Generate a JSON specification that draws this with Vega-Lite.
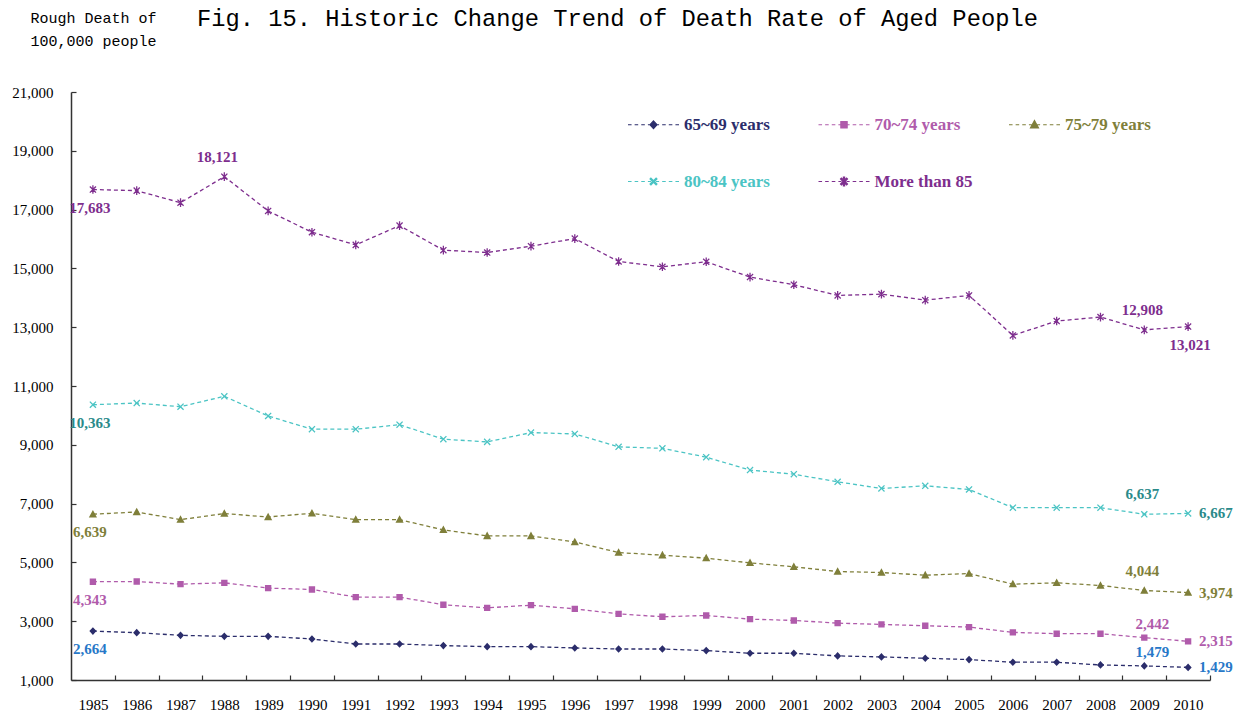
{
  "$schema": "https://vega.github.io/schema/vega-lite/v6.json",
  "width": 1139,
  "height": 588,
  "autosize": {"type": "none"},
  "padding": {"left": 71, "top": 92, "right": 36, "bottom": 36},
  "background": "white",
  "title": {
    "text": "Fig. 15. Historic Change Trend of Death Rate of Aged People",
    "anchor": "start",
    "frame": "group",
    "font": "Liberation Mono",
    "fontSize": 23.75,
    "fontWeight": "normal",
    "color": "#000000",
    "dx": 126,
    "dy": 29,
    "offset": 8
  },
  "config": {
    "view": {"stroke": null},
    "axis": {
      "domainColor": "#333333",
      "domainWidth": 1.5,
      "tickColor": "#333333",
      "tickWidth": 1.2,
      "labelFont": "Liberation Serif",
      "labelFontSize": 15,
      "labelColor": "#000000",
      "grid": false
    }
  },
  "datasets": {
    "rates": [
      {"year": 1985, "series": "65~69 years", "value": 2664},
      {"year": 1986, "series": "65~69 years", "value": 2610},
      {"year": 1987, "series": "65~69 years", "value": 2520},
      {"year": 1988, "series": "65~69 years", "value": 2485},
      {"year": 1989, "series": "65~69 years", "value": 2485},
      {"year": 1990, "series": "65~69 years", "value": 2395},
      {"year": 1991, "series": "65~69 years", "value": 2225},
      {"year": 1992, "series": "65~69 years", "value": 2225},
      {"year": 1993, "series": "65~69 years", "value": 2170},
      {"year": 1994, "series": "65~69 years", "value": 2135},
      {"year": 1995, "series": "65~69 years", "value": 2135},
      {"year": 1996, "series": "65~69 years", "value": 2090},
      {"year": 1997, "series": "65~69 years", "value": 2055},
      {"year": 1998, "series": "65~69 years", "value": 2055},
      {"year": 1999, "series": "65~69 years", "value": 2000},
      {"year": 2000, "series": "65~69 years", "value": 1910},
      {"year": 2001, "series": "65~69 years", "value": 1910},
      {"year": 2002, "series": "65~69 years", "value": 1820},
      {"year": 2003, "series": "65~69 years", "value": 1785},
      {"year": 2004, "series": "65~69 years", "value": 1740},
      {"year": 2005, "series": "65~69 years", "value": 1695},
      {"year": 2006, "series": "65~69 years", "value": 1605},
      {"year": 2007, "series": "65~69 years", "value": 1605},
      {"year": 2008, "series": "65~69 years", "value": 1512},
      {"year": 2009, "series": "65~69 years", "value": 1479},
      {"year": 2010, "series": "65~69 years", "value": 1429},
      {"year": 1985, "series": "70~74 years", "value": 4343},
      {"year": 1986, "series": "70~74 years", "value": 4350},
      {"year": 1987, "series": "70~74 years", "value": 4260},
      {"year": 1988, "series": "70~74 years", "value": 4305},
      {"year": 1989, "series": "70~74 years", "value": 4125},
      {"year": 1990, "series": "70~74 years", "value": 4080},
      {"year": 1991, "series": "70~74 years", "value": 3820},
      {"year": 1992, "series": "70~74 years", "value": 3820},
      {"year": 1993, "series": "70~74 years", "value": 3560},
      {"year": 1994, "series": "70~74 years", "value": 3455},
      {"year": 1995, "series": "70~74 years", "value": 3545},
      {"year": 1996, "series": "70~74 years", "value": 3420},
      {"year": 1997, "series": "70~74 years", "value": 3250},
      {"year": 1998, "series": "70~74 years", "value": 3150},
      {"year": 1999, "series": "70~74 years", "value": 3195},
      {"year": 2000, "series": "70~74 years", "value": 3070},
      {"year": 2001, "series": "70~74 years", "value": 3025},
      {"year": 2002, "series": "70~74 years", "value": 2935},
      {"year": 2003, "series": "70~74 years", "value": 2890},
      {"year": 2004, "series": "70~74 years", "value": 2845},
      {"year": 2005, "series": "70~74 years", "value": 2800},
      {"year": 2006, "series": "70~74 years", "value": 2620},
      {"year": 2007, "series": "70~74 years", "value": 2575},
      {"year": 2008, "series": "70~74 years", "value": 2575},
      {"year": 2009, "series": "70~74 years", "value": 2442},
      {"year": 2010, "series": "70~74 years", "value": 2315},
      {"year": 1985, "series": "75~79 years", "value": 6639},
      {"year": 1986, "series": "75~79 years", "value": 6715},
      {"year": 1987, "series": "75~79 years", "value": 6455},
      {"year": 1988, "series": "75~79 years", "value": 6660},
      {"year": 1989, "series": "75~79 years", "value": 6545},
      {"year": 1990, "series": "75~79 years", "value": 6670},
      {"year": 1991, "series": "75~79 years", "value": 6455},
      {"year": 1992, "series": "75~79 years", "value": 6455},
      {"year": 1993, "series": "75~79 years", "value": 6105},
      {"year": 1994, "series": "75~79 years", "value": 5900},
      {"year": 1995, "series": "75~79 years", "value": 5900},
      {"year": 1996, "series": "75~79 years", "value": 5695},
      {"year": 1997, "series": "75~79 years", "value": 5335},
      {"year": 1998, "series": "75~79 years", "value": 5245},
      {"year": 1999, "series": "75~79 years", "value": 5145},
      {"year": 2000, "series": "75~79 years", "value": 4985},
      {"year": 2001, "series": "75~79 years", "value": 4850},
      {"year": 2002, "series": "75~79 years", "value": 4690},
      {"year": 2003, "series": "75~79 years", "value": 4655},
      {"year": 2004, "series": "75~79 years", "value": 4565},
      {"year": 2005, "series": "75~79 years", "value": 4620},
      {"year": 2006, "series": "75~79 years", "value": 4260},
      {"year": 2007, "series": "75~79 years", "value": 4305},
      {"year": 2008, "series": "75~79 years", "value": 4215},
      {"year": 2009, "series": "75~79 years", "value": 4044},
      {"year": 2010, "series": "75~79 years", "value": 3974},
      {"year": 1985, "series": "80~84 years", "value": 10363},
      {"year": 1986, "series": "80~84 years", "value": 10420},
      {"year": 1987, "series": "80~84 years", "value": 10295},
      {"year": 1988, "series": "80~84 years", "value": 10650},
      {"year": 1989, "series": "80~84 years", "value": 9980},
      {"year": 1990, "series": "80~84 years", "value": 9530},
      {"year": 1991, "series": "80~84 years", "value": 9530},
      {"year": 1992, "series": "80~84 years", "value": 9685},
      {"year": 1993, "series": "80~84 years", "value": 9190},
      {"year": 1994, "series": "80~84 years", "value": 9100},
      {"year": 1995, "series": "80~84 years", "value": 9415},
      {"year": 1996, "series": "80~84 years", "value": 9370},
      {"year": 1997, "series": "80~84 years", "value": 8930},
      {"year": 1998, "series": "80~84 years", "value": 8880},
      {"year": 1999, "series": "80~84 years", "value": 8580},
      {"year": 2000, "series": "80~84 years", "value": 8140},
      {"year": 2001, "series": "80~84 years", "value": 8000},
      {"year": 2002, "series": "80~84 years", "value": 7740},
      {"year": 2003, "series": "80~84 years", "value": 7515},
      {"year": 2004, "series": "80~84 years", "value": 7605},
      {"year": 2005, "series": "80~84 years", "value": 7480},
      {"year": 2006, "series": "80~84 years", "value": 6860},
      {"year": 2007, "series": "80~84 years", "value": 6860},
      {"year": 2008, "series": "80~84 years", "value": 6860},
      {"year": 2009, "series": "80~84 years", "value": 6637},
      {"year": 2010, "series": "80~84 years", "value": 6667},
      {"year": 1985, "series": "More than 85", "value": 17683},
      {"year": 1986, "series": "More than 85", "value": 17645},
      {"year": 1987, "series": "More than 85", "value": 17235},
      {"year": 1988, "series": "More than 85", "value": 18121},
      {"year": 1989, "series": "More than 85", "value": 16955},
      {"year": 1990, "series": "More than 85", "value": 16230},
      {"year": 1991, "series": "More than 85", "value": 15800},
      {"year": 1992, "series": "More than 85", "value": 16455},
      {"year": 1993, "series": "More than 85", "value": 15620},
      {"year": 1994, "series": "More than 85", "value": 15540},
      {"year": 1995, "series": "More than 85", "value": 15755},
      {"year": 1996, "series": "More than 85", "value": 16015},
      {"year": 1997, "series": "More than 85", "value": 15235},
      {"year": 1998, "series": "More than 85", "value": 15055},
      {"year": 1999, "series": "More than 85", "value": 15225},
      {"year": 2000, "series": "More than 85", "value": 14705},
      {"year": 2001, "series": "More than 85", "value": 14445},
      {"year": 2002, "series": "More than 85", "value": 14080},
      {"year": 2003, "series": "More than 85", "value": 14125},
      {"year": 2004, "series": "More than 85", "value": 13920},
      {"year": 2005, "series": "More than 85", "value": 14080},
      {"year": 2006, "series": "More than 85", "value": 12720},
      {"year": 2007, "series": "More than 85", "value": 13210},
      {"year": 2008, "series": "More than 85", "value": 13345},
      {"year": 2009, "series": "More than 85", "value": 12908},
      {"year": 2010, "series": "More than 85", "value": 13021}
    ]
  },
  "data": {"name": "rates"},
  "encoding": {
    "x": {
      "field": "year",
      "type": "ordinal",
      "scale": {"type": "point", "padding": 0.5},
      "axis": {
        "title": null,
        "labelAngle": 0,
        "tickSize": -5,
        "tickOffset": 21.9,
        "labelOffset": -21.9,
        "labelPadding": 22
      }
    },
    "y": {
      "field": "value",
      "type": "quantitative",
      "scale": {"domain": [1000, 21000], "nice": false, "zero": false},
      "axis": {
        "values": [1000, 3000, 5000, 7000, 9000, 11000, 13000, 15000, 17000, 19000, 21000],
        "format": ",.0f",
        "tickSize": -5,
        "labelPadding": 23,
        "title": ["Rough Death of", "100,000 people"],
        "titleAngle": 0,
        "titleAlign": "left",
        "titleBaseline": "alphabetic",
        "titleX": -41,
        "titleY": -70,
        "titleFont": "Liberation Mono",
        "titleFontSize": 15,
        "titleFontWeight": "normal",
        "titleColor": "#000000",
        "titleLineHeight": 23
      }
    }
  },
  "layer": [
    {
      "mark": {"type": "line", "strokeDash": [4, 3], "strokeWidth": 1.3},
      "encoding": {
        "stroke": {
          "field": "series",
          "type": "nominal",
          "scale": {
            "domain": ["More than 85", "80~84 years", "75~79 years", "70~74 years", "65~69 years"],
            "range": ["#7E2E8E", "#4BC4C4", "#7F7F3A", "#B05BAB", "#2B2D6B"]
          },
          "legend": null
        }
      }
    },
    {
      "mark": {"type": "point", "filled": true, "size": 2601, "strokeWidth": 0, "opacity": 1},
      "encoding": {
        "color": {
          "field": "series",
          "type": "nominal",
          "scale": {
            "domain": ["65~69 years", "70~74 years", "75~79 years", "80~84 years", "More than 85"],
            "range": ["#2B2D6B", "#B05BAB", "#7F7F3A", "#4BC4C4", "#7E2E8E"]
          },
          "legend": {
            "title": null,
            "orient": "none",
            "legendX": 556,
            "legendY": 6,
            "direction": "horizontal",
            "columns": 3,
            "gridAlign": "all",
            "columnPadding": 33.5,
            "rowPadding": 22,
            "padding": 0,
            "symbolSize": 2601,
            "symbolStrokeWidth": 1.1,
            "symbolOpacity": 1,
            "labelOffset": 4,
            "labelFont": "Liberation Serif",
            "labelFontSize": 17,
            "labelFontWeight": "bold",
            "labelLimit": 300,
            "encode": {
              "labels": {"update": {"fill": {"scale": "color", "field": "value"}}},
              "symbols": {
                "update": {
                  "stroke": {"scale": "color", "field": "value"},
                  "strokeWidth": {"value": 1.1}
                }
              }
            }
          }
        },
        "shape": {
          "field": "series",
          "type": "nominal",
          "scale": {
            "domain": ["65~69 years", "70~74 years", "75~79 years", "80~84 years", "More than 85"],
            "range": [
              "M-1,0L-0.86,0M-0.74,0L-0.6,0M-0.48,0L-0.34,0M-0.22,0L-0.1,0M0.1,0L0.22,0M0.34,0L0.48,0M0.6,0L0.74,0M0.86,0L1,0M0,-0.15L0.14,0L0,0.15L-0.14,0Z",
              "M-1,0L-0.86,0M-0.74,0L-0.6,0M-0.48,0L-0.34,0M-0.22,0L-0.1,0M0.1,0L0.22,0M0.34,0L0.48,0M0.6,0L0.74,0M0.86,0L1,0M-0.125,-0.125L0.125,-0.125L0.125,0.125L-0.125,0.125Z",
              "M-1,0L-0.86,0M-0.74,0L-0.6,0M-0.48,0L-0.34,0M-0.22,0L-0.1,0M0.1,0L0.22,0M0.34,0L0.48,0M0.6,0L0.74,0M0.86,0L1,0M0,-0.17L0.16,0.125L-0.16,0.125Z",
              "M-1,0L-0.86,0M-0.74,0L-0.6,0M-0.48,0L-0.34,0M-0.22,0L-0.1,0M0.1,0L0.22,0M0.34,0L0.48,0M0.6,0L0.74,0M0.86,0L1,0M-0.1025,0.1379L0,0.0354L0.1025,0.1379L0.1379,0.1025L0.0354,0L0.1379,-0.1025L0.1025,-0.1379L0,-0.0354L-0.1025,-0.1379L-0.1379,-0.1025L-0.0354,0L-0.1379,0.1025Z",
              "M-1,0L-0.86,0M-0.74,0L-0.6,0M-0.48,0L-0.34,0M-0.22,0L-0.1,0M0.1,0L0.22,0M0.34,0L0.48,0M0.6,0L0.74,0M0.86,0L1,0M-0.1025,0.1379L0,0.0354L0.1025,0.1379L0.1379,0.1025L0.0354,0L0.1379,-0.1025L0.1025,-0.1379L0,-0.0354L-0.1025,-0.1379L-0.1379,-0.1025L-0.0354,0L-0.1379,0.1025ZM-0.025,-0.17L-0.025,0.17L0.025,0.17L0.025,-0.17Z"
            ]
          }
        }
      }
    },
    {
      "transform": [{"filter": "datum.year === 1985"}],
      "mark": {"type": "text", "font": "Liberation Serif", "fontWeight": "bold", "fontSize": 15, "dy": 18, "dx": -3},
      "encoding": {
        "text": {"field": "value", "type": "quantitative", "format": ","},
        "fill": {
          "field": "series",
          "type": "nominal",
          "scale": {
            "domain": ["65~69 years", "70~74 years", "75~79 years", "80~84 years", "More than 85"],
            "range": ["#2778C8", "#B05BAB", "#7F7F3A", "#2A8A8A", "#7E2E8E"]
          },
          "legend": null
        }
      }
    },
    {
      "transform": [{"filter": "datum.year === 1988 && datum.series === 'More than 85'"}],
      "mark": {"type": "text", "font": "Liberation Serif", "fontWeight": "bold", "fontSize": 15, "dy": -20, "dx": -7},
      "encoding": {
        "text": {"field": "value", "type": "quantitative", "format": ","},
        "fill": {"field": "series", "type": "nominal", "legend": null}
      }
    },
    {
      "transform": [{"filter": "datum.year === 2009 && (datum.series === 'More than 85' || datum.series === '80~84 years' || datum.series === '75~79 years')"}],
      "mark": {"type": "text", "font": "Liberation Serif", "fontWeight": "bold", "fontSize": 15, "dy": -20, "dx": -2},
      "encoding": {
        "text": {"field": "value", "type": "quantitative", "format": ","},
        "fill": {"field": "series", "type": "nominal", "legend": null}
      }
    },
    {
      "transform": [{"filter": "datum.year === 2009 && (datum.series === '70~74 years' || datum.series === '65~69 years')"}],
      "mark": {"type": "text", "font": "Liberation Serif", "fontWeight": "bold", "fontSize": 15, "dy": -14, "dx": 8},
      "encoding": {
        "text": {"field": "value", "type": "quantitative", "format": ","},
        "fill": {"field": "series", "type": "nominal", "legend": null}
      }
    },
    {
      "transform": [{"filter": "datum.year === 2010 && datum.series === 'More than 85'"}],
      "mark": {"type": "text", "font": "Liberation Serif", "fontWeight": "bold", "fontSize": 15, "dy": 18, "dx": 2},
      "encoding": {
        "text": {"field": "value", "type": "quantitative", "format": ","},
        "fill": {"field": "series", "type": "nominal", "legend": null}
      }
    },
    {
      "transform": [{"filter": "datum.year === 2010 && datum.series !== 'More than 85'"}],
      "mark": {"type": "text", "font": "Liberation Serif", "fontWeight": "bold", "fontSize": 15, "align": "left", "dx": 11},
      "encoding": {
        "text": {"field": "value", "type": "quantitative", "format": ","},
        "fill": {"field": "series", "type": "nominal", "legend": null}
      }
    }
  ]
}
